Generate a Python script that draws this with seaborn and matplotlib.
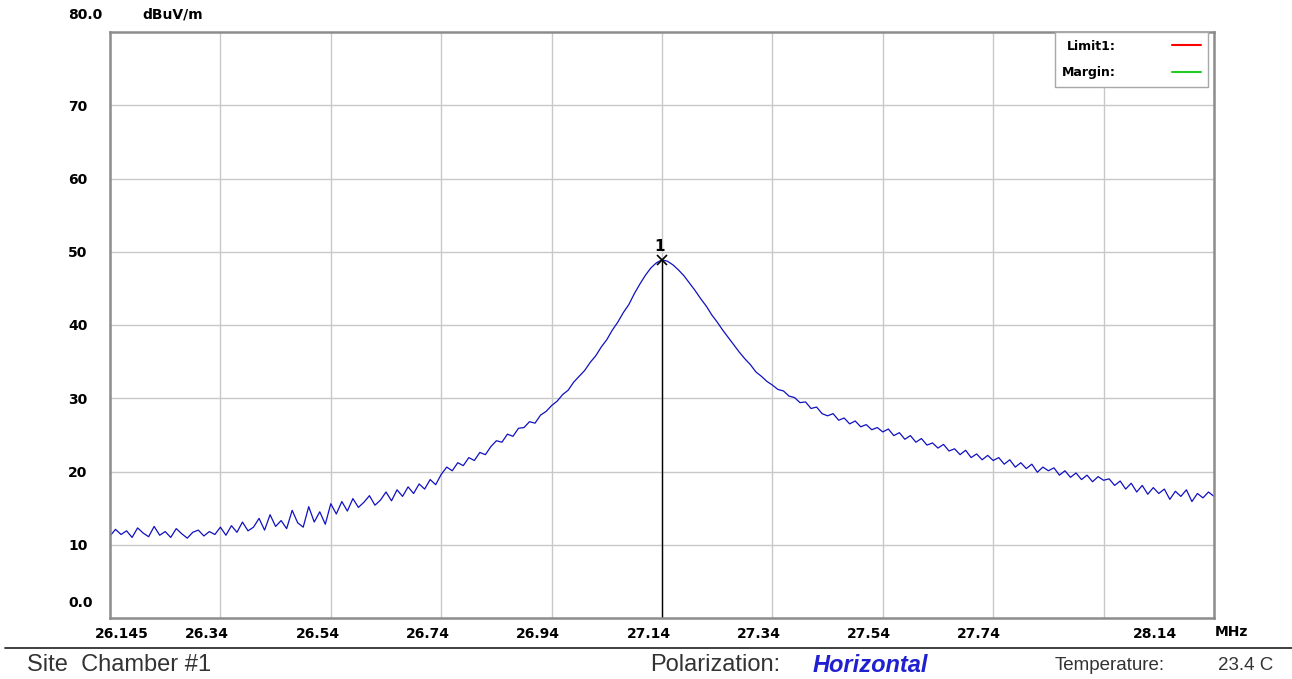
import numpy as np
import pandas as pd
import matplotlib.pyplot as plt
import seaborn as sns
from matplotlib.lines import Line2D

# measured field strength, dBuV/m, one reading every 0.01 MHz from 26.145 to 28.145
level_dbuv = [
    11.2, 12.1, 11.4, 11.9, 11.0, 12.3, 11.6, 11.1, 12.5, 11.3, 11.8, 11.0, 12.2, 11.5, 10.9, 11.7, 12.0, 11.2, 11.8, 11.4, 12.4,
    11.3, 12.6, 11.7, 13.1, 11.9, 12.4, 13.6, 12.0, 14.1, 12.5, 13.3, 12.2, 14.7, 13.0, 12.4, 15.2, 13.1, 14.5, 12.8, 15.6,
    14.2, 15.9, 14.6, 16.3, 15.1, 15.8, 16.7, 15.4, 16.1, 17.2, 16.0, 17.5, 16.6, 17.9, 17.0, 18.3, 17.6, 18.9, 18.2, 19.6,
    20.6, 20.1, 21.2, 20.8, 21.9, 21.5, 22.6, 22.3, 23.4, 24.2, 24.0, 25.1, 24.8, 25.9, 26.0, 26.8, 26.6, 27.7, 28.2, 29.0,
    29.6, 30.5, 31.1, 32.2, 33.0, 33.8, 34.9, 35.8, 37.0, 38.0, 39.3, 40.4, 41.7, 42.8, 44.3, 45.6, 46.8, 47.8, 48.5, 48.9,
    48.7, 48.2, 47.5, 46.7, 45.7, 44.7, 43.6, 42.6, 41.4, 40.4, 39.3, 38.3, 37.3, 36.3, 35.4, 34.6, 33.6, 33.0, 32.3, 31.8,
    31.2, 31.0, 30.3, 30.1, 29.4, 29.5, 28.6, 28.8, 27.9, 27.6, 27.9, 27.0, 27.3, 26.5, 26.9, 26.1, 26.4, 25.7, 26.0, 25.4,
    25.8, 24.9, 25.3, 24.4, 24.9, 24.0, 24.5, 23.6, 23.9, 23.2, 23.7, 22.8, 23.1, 22.3, 22.9, 21.9, 22.4, 21.6, 22.2, 21.5,
    21.9, 21.0, 21.6, 20.6, 21.2, 20.4, 21.0, 19.9, 20.6, 20.1, 20.5, 19.5, 20.1, 19.2, 19.8, 18.9, 19.5, 18.6, 19.3, 18.8,
    19.0, 18.1, 18.7, 17.6, 18.4, 17.2, 18.1, 16.9, 17.8, 17.0, 17.6, 16.2, 17.3, 16.6, 17.5, 15.9, 17.0, 16.4, 17.2, 16.6,
]
F_START, F_STOP = 26.145, 28.145
freq_mhz = np.linspace(F_START, F_STOP, len(level_dbuv))

grid_x = [26.345, 26.545, 26.745, 26.945, 27.145, 27.345, 27.545, 27.745, 27.945]
y_ticks = [10, 20, 30, 40, 50, 60, 70]
x_label_pos = [26.167, 26.321, 26.522, 26.721, 26.920, 27.121, 27.321, 27.520, 27.719, 28.038]
x_labels = ["26.145", "26.34", "26.54", "26.74", "26.94", "27.14", "27.34", "27.54", "27.74", "28.14"]

W, H = 1292, 679

sns.set_style("white")
plt.rcParams['font.family'] = ['DejaVu Sans']
plt.rcParams['text.color'] = 'black'
plt.rcParams['xtick.color'] = 'black'
plt.rcParams['ytick.color'] = 'black'

fig = plt.figure(figsize=(W / 100, H / 100), dpi=100)
ax = fig.add_axes([110 / W, 1 - 618 / H, (1214 - 110) / W, (618 - 32) / H])

df = pd.DataFrame({"freq": freq_mhz, "level": level_dbuv})
sns.lineplot(data=df, x="freq", y="level", ax=ax, color="#1010c0", lw=0.9)

ax.set_xlim(F_START, F_STOP)
ax.set_ylim(0, 80)
ax.set_xlabel("")
ax.set_ylabel("")

# grid on minor x ticks, labels on major (labels sit a bit left of the lines)
ax.set_xticks(grid_x, minor=True)
ax.set_xticks(x_label_pos, x_labels)
ax.set_yticks(y_ticks, [str(v) for v in y_ticks])
ax.grid(False)
ax.xaxis.grid(True, which="minor", color="#c8c8c8", lw=1)
ax.yaxis.grid(True, which="major", color="#c8c8c8", lw=1)
ax.tick_params(which="both", length=0, labelcolor="black")
ax.tick_params(axis="x", pad=6.5, labelsize=10)
ax.tick_params(axis="y", pad=30, labelsize=10)
for lab in ax.get_xticklabels() + ax.get_yticklabels():
    lab.set_fontweight("bold")
for lab in ax.get_yticklabels():
    lab.set_horizontalalignment("left")

for s in ax.spines.values():
    s.set_color("#8c8c8c")
    s.set_linewidth(1.8)

# marker 1 at the peak
i_pk = int(np.argmax(level_dbuv))
pk_f, pk_v = freq_mhz[i_pk], level_dbuv[i_pk]
ax.vlines(pk_f, 0, pk_v, color="black", lw=1)
ax.plot(pk_f, pk_v, marker="x", color="black", ms=7, mew=1.2)
ax.annotate("1", (pk_f, pk_v), xytext=(-2, 4), textcoords="offset points",
            ha="center", va="bottom", fontsize=11, fontweight="bold", color="black")

handles = [Line2D([], [], color="#ff0000", lw=1.5), Line2D([], [], color="#22cc22", lw=1.5)]
leg = ax.legend(handles, ["Limit1:", "Margin:"], loc="upper right", bbox_to_anchor=(0.995, 1.0),
                markerfirst=False, fancybox=False, edgecolor="#a8a8a8", framealpha=1,
                borderaxespad=0, borderpad=0.6, handlelength=2.3, handletextpad=4.5,
                labelspacing=1.1, prop={"weight": "bold", "size": 9})
leg.get_frame().set_linewidth(1)
for t in leg.get_texts():
    t.set_color("black")

# loose labels around the axes
fig.text(68 / W, 1 - 15 / H, "80.0", fontsize=10, fontweight="bold", va="center", ha="left")
fig.text(142 / W, 1 - 15 / H, "dBuV/m", fontsize=10, fontweight="bold", va="center", ha="left")
fig.text(68 / W, 1 - 603 / H, "0.0", fontsize=10, fontweight="bold", va="center", ha="left")
fig.text(1215 / W, 1 - 632 / H, "MHz", fontsize=10, fontweight="bold", va="center", ha="left")

fig.add_artist(Line2D([5 / W, 1], [1 - 648 / H, 1 - 648 / H], color="#303030", lw=1.3))

sans = ["Liberation Sans", "DejaVu Sans"]
yb = 1 - 665 / H
fig.text(27 / W, yb, "Site  Chamber #1", family=sans, fontsize=17, color="#333333", va="center")
fig.text(650 / W, yb, "Polarization:", family=sans, fontsize=17, color="#333333", va="center")
fig.text(813 / W, yb, "Horizontal", family=sans, fontsize=17, color="#2020d0",
         fontweight="bold", fontstyle="italic", va="center")
fig.text(1055 / W, yb, "Temperature:", family=sans, fontsize=13.5, color="#333333", va="center")
fig.text(1218 / W, yb, "23.4 C", family=sans, fontsize=13.5, color="#333333", va="center")

fig.savefig("out.png", dpi=100)
plt.close(fig)
